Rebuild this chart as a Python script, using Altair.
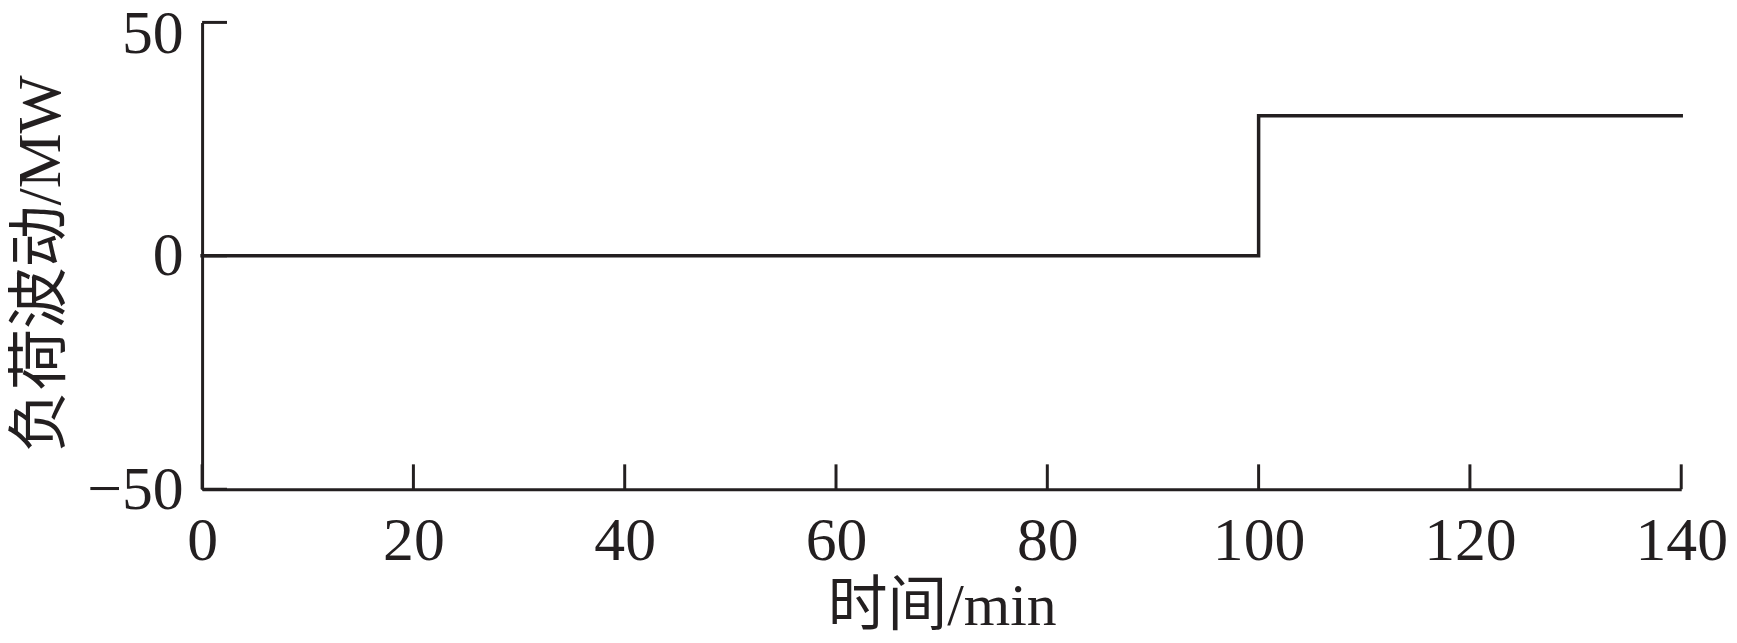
import altair as alt
import pandas as pd

# Data
time_min = [0, 100, 140]
load_mw = [0, 30, 30]
x_ticks = [0, 20, 40, 60, 80, 100, 120, 140]
y_ticks = [-50, 0, 50]

W, H = 1486, 469
INK = "#231f20"
FONT = "Liberation Serif, Noto Sans CJK SC"

line_df = pd.DataFrame({"t": time_min, "p": load_mw})
xt_df = pd.DataFrame({"t": x_ticks})
yt_df = pd.DataFrame({"p": y_ticks})

xaxis = alt.Axis(
    values=x_ticks, ticks=False, tickSize=0, grid=False,
    domainColor=INK, domainWidth=3,
    labelFont=FONT, labelFontSize=62, labelColor=INK,
    labelBaseline="alphabetic", labelPadding=71,
    labelFlush=False, labelOverlap=False,
    title="时间/min", titleFont=FONT, titleFontSize=60, titleFontWeight="normal",
    titleColor=INK, titleBaseline="alphabetic", titleY=136,
)
yaxis = alt.Axis(
    values=y_ticks, ticks=False, tickSize=0, grid=False,
    domainColor=INK, domainWidth=3,
    labelFont=FONT, labelFontSize=62, labelColor=INK,
    labelBaseline="middle", labelPadding=19,
    labelOffset={"condition": {"test": "datum.value === 50", "value": 11}, "value": 0},
    labelFlush=False, labelOverlap=False,
    title="负荷波动/MW", titleFont=FONT, titleFontSize=62, titleFontWeight="normal",
    titleColor=INK, titleBaseline="middle", titleAlign="center",
    titleX=-162, titleY=242, titleAngle=270,
)

xs = alt.Scale(domain=[0, 140], nice=False, zero=False)
ys = alt.Scale(domain=[-50, 50], nice=False, zero=False)

def X():
    return alt.X("t:Q", scale=xs, axis=xaxis)

def Y():
    return alt.Y("p:Q", scale=ys, axis=yaxis)

line = alt.Chart(line_df).mark_line(
    interpolate="step-after", color=INK, strokeWidth=3.5, strokeCap="square"
).encode(x=X(), y=Y())

yticks = alt.Chart(yt_df).mark_rule(color=INK, strokeWidth=3).encode(
    y=Y(), x=alt.value(0), x2=alt.value(25)
)
xticks = alt.Chart(xt_df).mark_rule(color=INK, strokeWidth=3).encode(
    x=X(), y=alt.value(H), y2=alt.value(H - 25)
)

chart = alt.layer(line, yticks, xticks).properties(
    width=W, height=H,
    autosize=alt.AutoSizeParams(type="none"),
    padding={"left": 195, "top": 13, "right": 48, "bottom": 150},
    background="white",
).configure_view(stroke=None)

chart.save("out.html", embed_options={"renderer": "svg", "actions": False})
